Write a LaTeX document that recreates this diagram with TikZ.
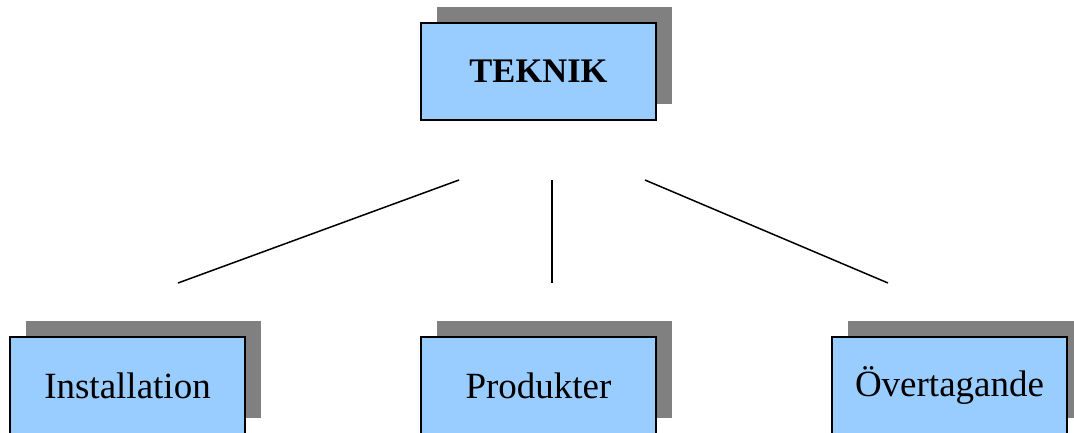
\documentclass[tikz,border=0pt]{standalone}
\usepackage{fontspec}
\setmainfont{Liberation Serif}
\usetikzlibrary{shadows}
\definecolor{boxblue}{HTML}{99CCFF}
\definecolor{shadowgray}{HTML}{808080}
\begin{document}
\begin{tikzpicture}[x=1pt,y=-1pt,
  orgbox/.style={draw=black, line width=1.5pt, fill=boxblue, minimum width=235pt, minimum height=97pt, inner sep=0pt,
    drop shadow={shadow xshift=16pt, shadow yshift=16pt, fill=shadowgray, opacity=1}},
  link/.style={line width=1.5pt}]
\useasboundingbox (0,0) rectangle (1074,432);
\node[orgbox, font=\fontsize{34.5}{40}\selectfont\bfseries] (top) at (538.5,71.5) {TEKNIK};
\node[orgbox, font=\fontsize{37}{44}\selectfont] (inst) at (127.5,385.5) {Installation};
\node[orgbox, font=\fontsize{37}{44}\selectfont] (prod) at (538.5,385.5) {Produkter};
\node[orgbox, font=\fontsize{37}{44}\selectfont] (over) at (949.5,385.5) {Övertagande};
\coordinate (a1) at (459,180); \coordinate (b1) at (178,283);
\coordinate (a2) at (552,180); \coordinate (b2) at (552,283);
\coordinate (a3) at (645,180); \coordinate (b3) at (888,283);
\draw[link] (a1) -- (b1);
\draw[link] (a2) -- (b2);
\draw[link] (a3) -- (b3);
\end{tikzpicture}
\end{document}
